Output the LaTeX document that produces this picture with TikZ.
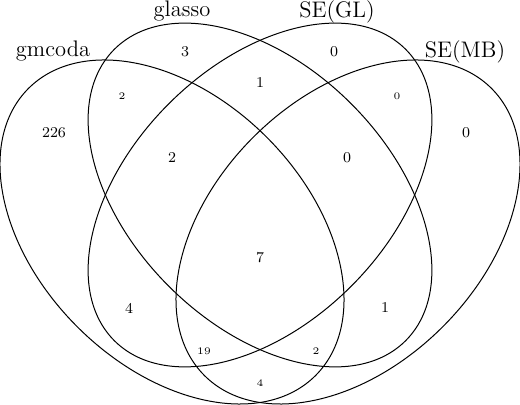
\documentclass[tikz,border=0pt]{standalone}
\begin{document}
\begin{tikzpicture}[x=0.5pt,y=-0.5pt,
  vset/.style={line width=0.5pt},
  setlabel/.style={font=\fontsize{11.25}{13}\selectfont, anchor=base, inner sep=0pt},
  bignum/.style={font=\fontsize{7.5}{9}\selectfont, inner sep=0pt},
  smallnum/.style={font=\fontsize{5}{6}\selectfont, inner sep=0pt}]
\useasboundingbox (0,0) rectangle (520,405);
\coordinate (cA) at (172,232);
\coordinate (cB) at (260,195);
\coordinate (cD) at (348,232);
\draw[vset, rotate around={-45:(cA)}] (cA) ellipse [x radius=101.5pt, y radius=67pt];
\draw[vset, rotate around={-45:(cB)}] (cB) ellipse [x radius=103pt, y radius=64.5pt];
\draw[vset, rotate around={45:(cB)}] (cB) ellipse [x radius=103pt, y radius=64.5pt];
\draw[vset, rotate around={45:(cD)}] (cD) ellipse [x radius=101.5pt, y radius=67pt];
\node[setlabel] (lA) at (53,57) {gmcoda};
\node[setlabel] (lB) at (182,17) {glasso};
\node[setlabel] (lC) at (337,18) {SE(GL)};
\node[setlabel] (lD) at (465,58) {SE(MB)};
\node[bignum] (n1) at (185,52) {3};
\node[bignum] (n2) at (334,52) {0};
\node[bignum] (n3) at (260,83) {1};
\node[smallnum] (n4) at (122,96) {2};
\node[smallnum] (n5) at (397,96) {0};
\node[bignum] (n6) at (54,133) {226};
\node[bignum] (n7) at (466,133) {0};
\node[bignum] (n8) at (172,158) {2};
\node[bignum] (n9) at (347,158) {0};
\node[bignum] (n10) at (260,258) {7};
\node[bignum] (n11) at (129,308) {4};
\node[bignum] (n12) at (385,308) {1};
\node[smallnum] (n13) at (204,351) {19};
\node[smallnum] (n14) at (316,351) {2};
\node[smallnum] (n15) at (260,383) {4};
\end{tikzpicture}
\end{document}
